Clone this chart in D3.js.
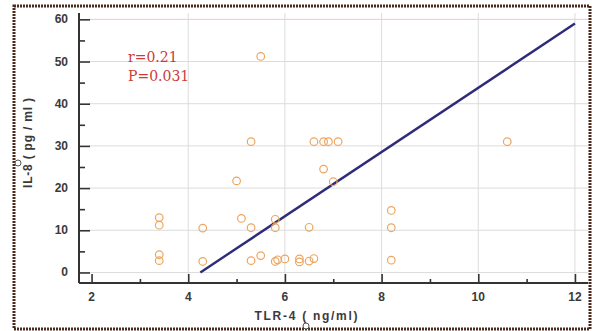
<!DOCTYPE html>
<html>
<head>
<meta charset="utf-8">
<script src="https://cdnjs.cloudflare.com/ajax/libs/d3/7.8.5/d3.min.js"></script>
<style>
  body { margin: 0; background: #fff; }
  .tick-label { font-family: 'Liberation Sans', Arial, sans-serif; font-size: 12px; font-weight: bold; fill: #3a3a3a; }
  .axis-title { font-family: 'Liberation Sans', Arial, sans-serif; font-size: 12px; font-weight: bold; fill: #3a3a3a; }
  .stat { font-family: 'DejaVu Serif', 'Liberation Serif', serif; font-size: 14px; fill: #cc3a3a; }
</style>
</head>
<body>
<div id="chart"></div>
<script>
// data
var tlr4 = [3.4, 3.4, 3.4, 3.4, 4.3, 4.3, 5.0, 5.1, 5.3, 5.3, 5.3, 5.5, 5.5, 5.8, 5.8, 5.8, 5.85, 6.0, 6.3, 6.3, 6.5, 6.5, 6.6, 6.6, 6.8, 6.8, 6.9, 7.0, 7.1, 8.2, 8.2, 8.2, 10.6];
var il8  = [13, 11.2, 4.2, 2.8, 10.5, 2.6, 21.7, 12.8, 31, 10.6, 2.8, 51.2, 4.0, 12.6, 10.6, 2.6, 3.0, 3.2, 2.5, 3.2, 10.7, 2.7, 31, 3.3, 31, 24.5, 31, 21.5, 31, 14.7, 10.6, 2.9, 31];
var fitX = [4.25, 12];
var fitY = [0, 59];
var xTicks = [2, 4, 6, 8, 10, 12];
var yTicks = [0, 10, 20, 30, 40, 50, 60];
var statLines = ["r=0.21", "P=0.031"];

var W = 592, H = 331;
var svg = d3.select("#chart").append("svg").attr("width", W).attr("height", H);

// plot frame
var pLeft = 79, pRight = 588, pTop = 13, pBottom = 283;
var x = d3.scaleLinear().domain([1.74, 12.27]).range([pLeft, pRight]);
var y = d3.scaleLinear().domain([-2.5, 61.5]).range([pBottom, pTop]);

// outer dotted frame
svg.append("rect").attr("x", 14).attr("y", 6).attr("width", 576).attr("height", 323)
  .attr("fill", "#fff").attr("stroke", "#4a2a1c").attr("stroke-width", 3)
  .attr("stroke-dasharray", "2,1");

// grid
svg.append("g").selectAll("line").data(yTicks).join("line")
  .attr("x1", pLeft + 10).attr("x2", pRight)
  .attr("y1", function(d) { return y(d); }).attr("y2", function(d) { return y(d); })
  .attr("stroke", function(d) { return d === 60 ? "#ecc8d2" : "#dcdcdc"; })
  .attr("stroke-width", 1);
svg.append("g").selectAll("line").data(xTicks.filter(function(d) { return d > 2; })).join("line")
  .attr("x1", function(d) { return x(d); }).attr("x2", function(d) { return x(d); })
  .attr("y1", pTop).attr("y2", pBottom)
  .attr("stroke", "#dcdcdc").attr("stroke-width", 1);

// axes (ticks pointing inward)
var yAxis = d3.axisRight(y).tickValues(d3.range(0, 61, 5)).tickSize(0).tickFormat("");
var gy = svg.append("g").attr("transform", "translate(" + pLeft + ",0)").call(yAxis);
gy.select(".domain").remove();
gy.selectAll(".tick line").attr("x2", function(d) { return d % 10 === 0 ? 11 : 6; })
  .attr("stroke", "#333").attr("stroke-width", 1.6);

var xAxis = d3.axisTop(x).tickValues(d3.range(2, 12.5, 1)).tickSize(0).tickFormat("");
var gx = svg.append("g").attr("transform", "translate(0," + pBottom + ")").call(xAxis);
gx.select(".domain").remove();
gx.selectAll(".tick line").attr("y2", function(d) { return d % 2 === 0 ? -9 : -4; })
  .attr("stroke", "#333").attr("stroke-width", 1.6);

svg.append("line").attr("x1", pLeft).attr("x2", pLeft).attr("y1", pTop).attr("y2", pBottom)
  .attr("stroke", "#333").attr("stroke-width", 2);
svg.append("line").attr("x1", pLeft).attr("x2", pRight).attr("y1", pBottom).attr("y2", pBottom)
  .attr("stroke", "#333").attr("stroke-width", 2);

// tick labels
svg.append("g").selectAll("text").data(yTicks).join("text")
  .attr("class", "tick-label").attr("x", 68).attr("y", function(d) { return y(d) + 4; })
  .attr("text-anchor", "end").text(function(d) { return d; });
svg.append("g").selectAll("text").data(xTicks).join("text")
  .attr("class", "tick-label").attr("x", function(d) { return x(d); }).attr("y", 301)
  .attr("text-anchor", "middle").text(function(d) { return d; });

// axis titles
svg.append("text").attr("class", "axis-title")
  .attr("transform", "translate(32,143) rotate(-90)")
  .attr("text-anchor", "middle").attr("textLength", 90).attr("lengthAdjust", "spacing")
  .text("IL-8 ( pg / ml )");
svg.append("text").attr("class", "axis-title")
  .attr("x", 306).attr("y", 320).attr("text-anchor", "middle")
  .attr("textLength", 103).attr("lengthAdjust", "spacing")
  .text("TLR-4 ( ng/ml)");

// regression line
svg.append("line")
  .attr("x1", x(fitX[0])).attr("y1", y(fitY[0]))
  .attr("x2", x(fitX[1])).attr("y2", y(fitY[1]))
  .attr("stroke", "#2e2c78").attr("stroke-width", 2.4);

// points
svg.append("g").selectAll("circle").data(tlr4).join("circle")
  .attr("cx", function(d) { return x(d); })
  .attr("cy", function(d, i) { return y(il8[i]); })
  .attr("r", 3.8).attr("fill", "none")
  .attr("stroke", "#eea55e").attr("stroke-width", 1.2);

// stats
svg.append("g").selectAll("text").data(statLines).join("text")
  .attr("class", "stat").attr("x", 128).attr("y", function(d, i) { return 62 + i * 19; })
  .text(function(d) { return d; });

// small handle circles on frame
svg.append("circle").attr("cx", 18).attr("cy", 163).attr("r", 3)
  .attr("fill", "#fff").attr("stroke", "#555").attr("stroke-width", 1);
svg.append("circle").attr("cx", 306).attr("cy", 326).attr("r", 3)
  .attr("fill", "#fff").attr("stroke", "#555").attr("stroke-width", 1);
</script>
</body>
</html>
